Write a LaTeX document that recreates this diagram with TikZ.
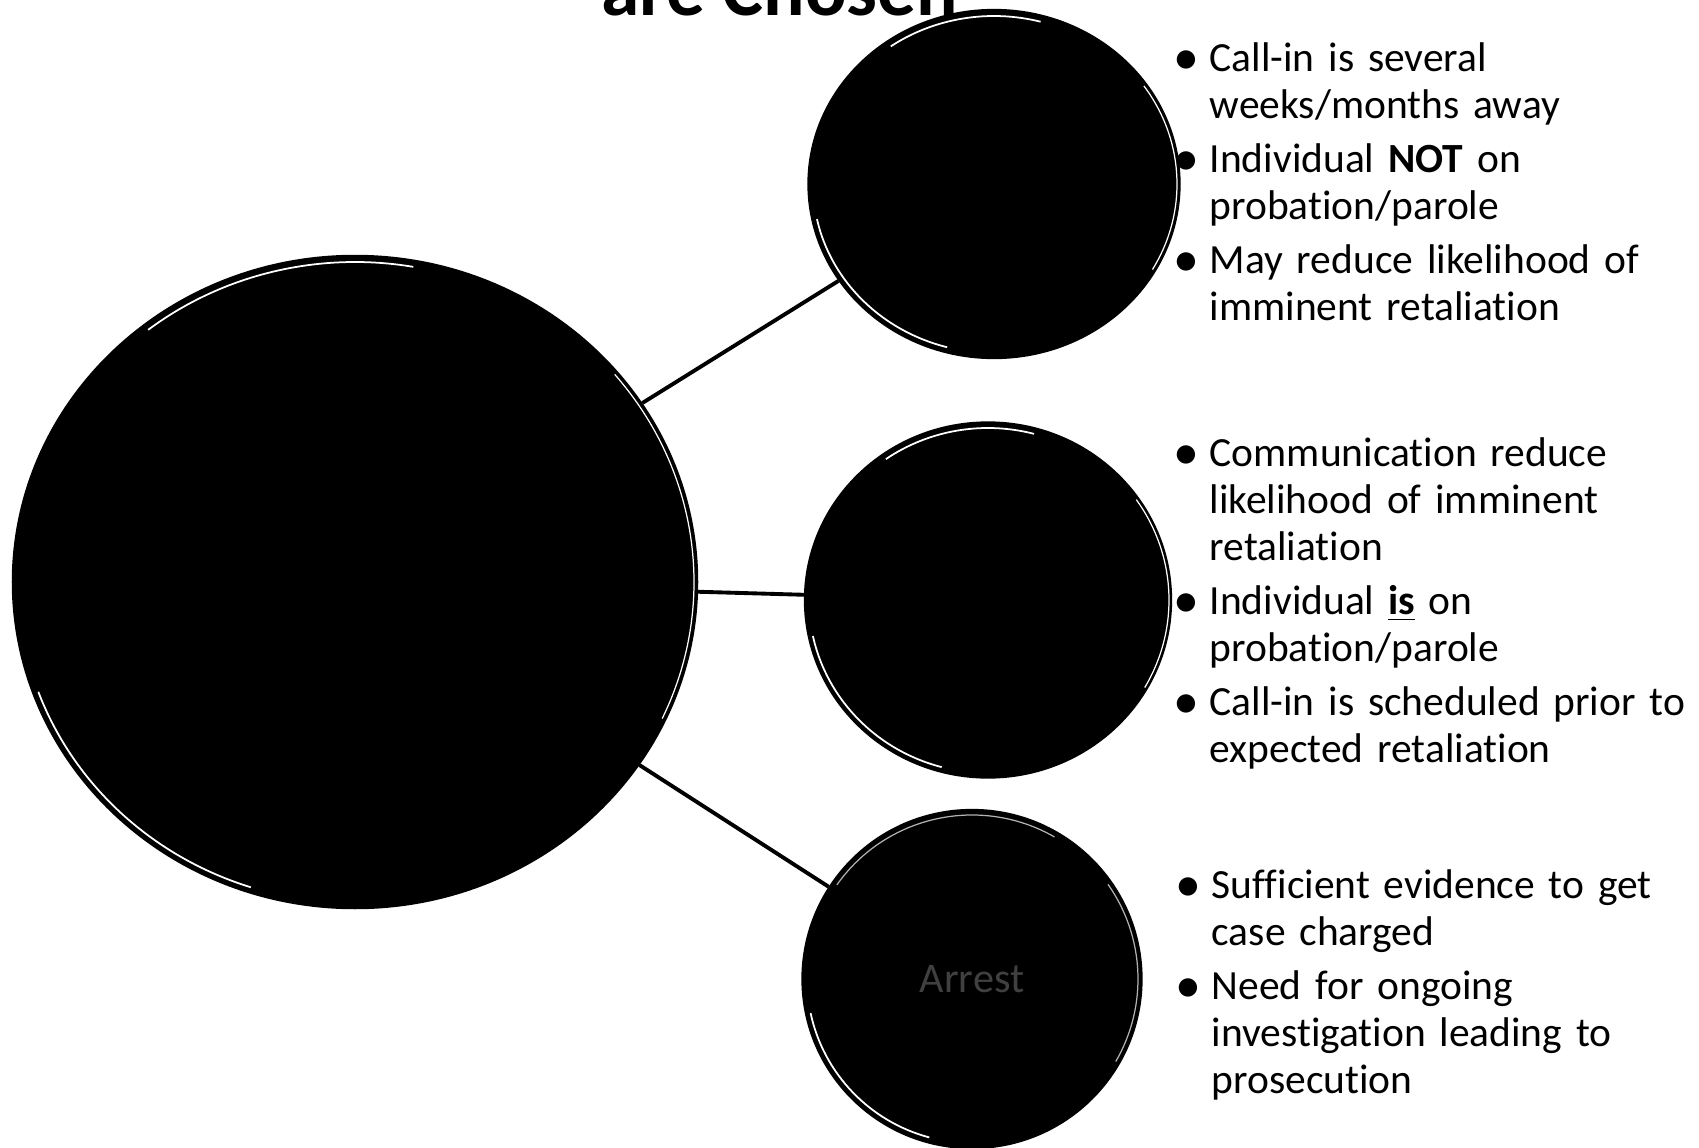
\documentclass[tikz,border=0pt]{standalone}
\usepackage{fontspec}
\usepackage{graphicx}
\setmainfont[RawFeature={-liga}]{Carlito}
\usetikzlibrary{shapes.geometric}
\newcommand{\bitem}[1]{\par\hangindent=0.33cm\hangafter=1\noindent\makebox[0.33cm][l]{\hspace*{-0.03cm}\raisebox{-0.07em}{\scalebox{1.25}{\textbullet}}}#1}
\begin{document}
\begin{tikzpicture}[x=0.01cm,y=-0.01cm,
  bub/.style={ellipse, fill=black, draw=black, line width=0.6pt, inner sep=0pt},
  link/.style={line width=1.1pt, black},
  hl/.style={white, line width=0.5pt},
  txt/.style={anchor=base west, inner sep=0pt, text width=5.2cm, align=left,
    font=\fontsize{11.8pt}{13.4pt}\selectfont}]
\useasboundingbox (0,0) rectangle (1699,1148);
\clip (0,0) rectangle (1699,1148);

% title (cut off at top)
\node[font=\bfseries\fontsize{22pt}{26pt}\selectfont, anchor=base, inner sep=0pt] (title) at (780,15) {are Chosen};

% circles
\node[bub, minimum width=6.84cm, minimum height=6.52cm] (main) at (355,582) {};
\node[bub, minimum width=3.71cm, minimum height=3.48cm] (top) at (994,184) {};
\node[bub, minimum width=3.66cm, minimum height=3.55cm] (mid) at (988,600) {};
\node[bub, minimum width=3.39cm, minimum height=3.38cm, text=gray!50!black,
  font=\fontsize{12pt}{14pt}\selectfont] (arr) at (972,979) {Arrest};

% connectors
\draw[link] (main) -- (top);
\draw[link] (main) -- (mid);
\draw[link] (main) -- (arr);

% bevel highlights
\draw[hl, shift={(main.center)}] (232:336 and 320) arc[start angle=232, end angle=280, x radius=336, y radius=320];
\draw[hl, shift={(main.center)}] (108:337 and 321) arc[start angle=108, end angle=160, x radius=337, y radius=321];
\draw[hl, line width=0.35pt, shift={(main.center)}] (-40:339 and 323) arc[start angle=-40, end angle=25, x radius=339, y radius=323];

\draw[hl, shift={(top.center)}] (235:180 and 168) arc[start angle=235, end angle=285, x radius=180, y radius=168];
\draw[hl, shift={(top.center)}] (105:181 and 169) arc[start angle=105, end angle=168, x radius=181, y radius=169];
\draw[hl, line width=0.35pt, shift={(top.center)}] (-35:183 and 171) arc[start angle=-35, end angle=30, x radius=183, y radius=171];

\draw[hl, shift={(mid.center)}] (235:178 and 172) arc[start angle=235, end angle=285, x radius=178, y radius=172];
\draw[hl, shift={(mid.center)}] (105:179 and 173) arc[start angle=105, end angle=168, x radius=179, y radius=173];
\draw[hl, line width=0.35pt, shift={(mid.center)}] (-35:181 and 175) arc[start angle=-35, end angle=30, x radius=181, y radius=175];

\draw[hl, line width=0.35pt, gray!60, shift={(arr.center)}] (215:165 and 164) arc[start angle=215, end angle=300, x radius=165, y radius=164];
\draw[hl, shift={(arr.center)}] (105:165 and 164) arc[start angle=105, end angle=168, x radius=165, y radius=164];
\draw[hl, line width=0.35pt, gray!60, shift={(arr.center)}] (-35:166 and 165) arc[start angle=-35, end angle=30, x radius=166, y radius=165];

% texts
\node[txt] (t1) at (1176,17) {\setlength{\parskip}{0.07cm}%
\bitem{Call-in is several\newline weeks/months away}%
\bitem{Individual \textbf{NOT} on\newline probation/parole}%
\bitem{May reduce likelihood of\newline imminent retaliation}\par};

\node[txt] (t2) at (1176,412) {\setlength{\parskip}{0.07cm}%
\bitem{Communication reduce\newline likelihood of imminent\newline retaliation}%
\bitem{Individual \underline{\textbf{is}} on\newline probation/parole}%
\bitem{Call-in is scheduled prior to\newline expected retaliation}\par};

\node[txt] (t3) at (1178,844) {\setlength{\parskip}{0.07cm}%
\bitem{Sufficient evidence to get\newline case charged}%
\bitem{Need for ongoing\newline investigation leading to\newline prosecution}\par};
\end{tikzpicture}
\end{document}
